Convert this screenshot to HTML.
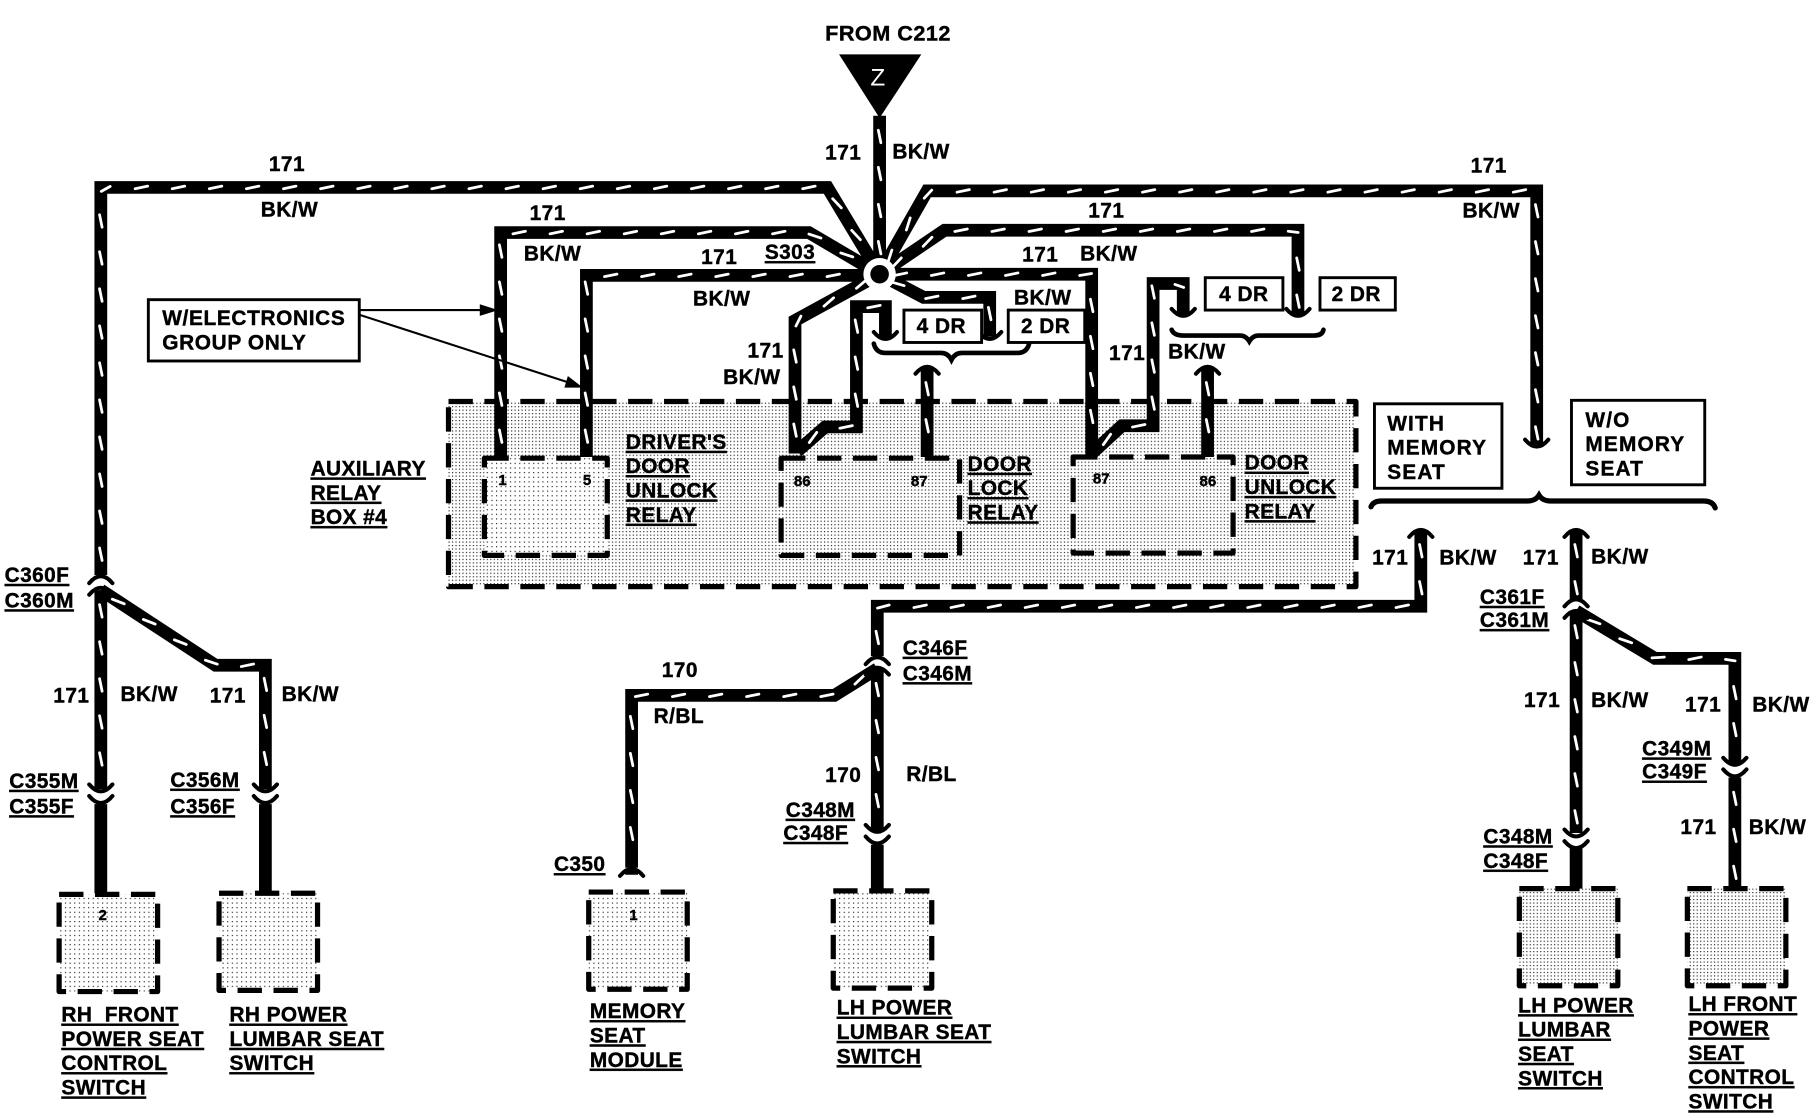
<!DOCTYPE html>
<html><head><meta charset="utf-8"><style>
html,body{margin:0;padding:0;background:#fff}
svg{display:block}
text{font-family:"Liberation Sans",sans-serif;font-weight:bold;font-size:18px;fill:#000;stroke:#000;stroke-width:.35;letter-spacing:.4px}
.u{text-decoration:underline;letter-spacing:.35px}
.m{letter-spacing:1px}
.g{letter-spacing:.55px}
.s{font-size:13px;letter-spacing:0}
.d{fill:url(#st);stroke:#000;stroke-width:4.5;stroke-dasharray:21 10;stroke-linejoin:round}
.l{fill:url(#st2)}
.b{fill:#fff;stroke:#000;stroke-width:2.5}
.c{fill:none;stroke:#000;stroke-width:3.5;stroke-linecap:round}
</style></head><body>
<svg xmlns="http://www.w3.org/2000/svg" width="1816" height="1120" viewBox="0 0 1567 968" preserveAspectRatio="none">
<defs>
<pattern id="st" width="3" height="3" patternUnits="userSpaceOnUse"><rect width="3" height="3" fill="#fff"/><rect width="1" height="1" fill="#222"/></pattern>
<pattern id="st2" width="4" height="4" patternUnits="userSpaceOnUse"><rect width="4" height="4" fill="#fff"/><rect width="1" height="1" fill="#222"/></pattern>
<path id="wires" d="M759,100V237 M87,497V162H714L759,237 M432,395V201H698L759,237 M506,395V238H759 M759,237L686,277V392 M688,390L712,369H739V265H764V292 M759,237L797,257H854V291 M800,318V395 M759,237L800,165H1326V385 M759,237L815,199H1120V272 M759,237H942V393 M942,392L968,368H995V245H1021V272 M1042,318V395 M1226,458V524H757V567 M757,578V718 M757,578L720,601H545V750 M1360,458V518 M1360,528V720 M1360,528L1428,569H1497V660 M1497,672V767 M87,510V682 M87,510L186,575H229V682"/>
<path id="c-d" d="M-10,-5Q0,7 10,-5"/>
<path id="c-u" d="M-10,5Q0,-7 10,5"/>
</defs>
<rect width="1567" height="968" fill="#fff"/>

<rect class="d" x="387" y="347" width="783" height="160"/>
<rect class="d l" x="418" y="396" width="106" height="84"/>
<rect class="d" x="674" y="396" width="154" height="84"/>
<rect class="d" x="926" y="395" width="138" height="83"/>
<rect class="d l" x="51" y="773" width="85" height="84"/>
<rect class="d l" x="189" y="772" width="85" height="84"/>
<rect class="d l" x="508" y="771" width="85" height="84"/>
<rect class="d l" x="719" y="770" width="85" height="84"/>
<rect class="d" x="1311" y="768" width="85" height="84"/>
<rect class="d" x="1456" y="768" width="85" height="84"/>

<use href="#wires" fill="none" stroke="#000" stroke-width="11"/>
<path id="dashes" fill="none" stroke="#fff" stroke-width="2.4" stroke-linecap="round"/>
<path d="M87,695V772 M229,695V772 M757,730V770 M1360,732V768 M545,752V756" fill="none" stroke="#000" stroke-width="11"/>

<polygon points="724,47 795,47 759,102" fill="#000"/>
<text x="751" y="74" style="fill:#fff;stroke:none;font-weight:normal;font-size:21px">Z</text>
<circle cx="759" cy="237" r="14" fill="#fff"/><circle cx="759" cy="237" r="8" fill="#000"/>

<g class="c">
<use href="#c-d" x="87" y="683"/><use href="#c-d" x="87" y="693"/>
<use href="#c-d" x="229" y="683"/><use href="#c-d" x="229" y="693"/>
<use href="#c-u" x="87" y="499"/><use href="#c-u" x="87" y="509"/>
<use href="#c-u" x="757" y="569"/><use href="#c-u" x="757" y="578"/>
<use href="#c-d" x="757" y="718"/><use href="#c-d" x="757" y="728"/>
<use href="#c-u" x="1360" y="519"/><use href="#c-u" x="1360" y="529"/>
<use href="#c-d" x="1360" y="722"/><use href="#c-d" x="1360" y="732"/>
<use href="#c-d" x="1497" y="660"/><use href="#c-d" x="1497" y="670"/>
<use href="#c-u" x="800" y="318"/><use href="#c-u" x="1042" y="318"/>
<use href="#c-u" x="1226" y="459"/><use href="#c-u" x="1360" y="459"/>
<use href="#c-d" x="764" y="292"/><use href="#c-d" x="854" y="292"/><use href="#c-d" x="1021" y="272"/><use href="#c-d" x="1120" y="272"/><use href="#c-d" x="1326" y="385"/>
<use href="#c-u" x="545" y="752"/>
<path d="M754,297Q756,305 764,305H812Q818,305 821,311Q824,305 830,305H878Q886,305 888,297" stroke-width="4"/>
<path d="M1011,285Q1013,290 1021,290H1070Q1075,290 1078,295Q1081,290 1086,290H1134Q1141,290 1142,285" stroke-width="4"/>
<path d="M1183,438Q1185,433 1192,433H1318Q1325,433 1328,428Q1331,433 1338,433H1470Q1478,433 1480,439" stroke-width="4.5"/>
</g>

<rect class="b" x="128" y="259" width="182" height="53"/>
<rect class="b" x="780" y="268" width="67" height="28"/>
<rect class="b" x="870" y="268" width="66" height="28"/>
<rect class="b" x="1040" y="240" width="67" height="28"/>
<rect class="b" x="1139" y="240" width="65" height="28"/>
<rect class="b" x="1186" y="349" width="110" height="73"/>
<rect class="b" x="1356" y="346" width="115" height="73"/>

<path d="M310,268H418 M310,272L492,331" stroke="#000" stroke-width="1.8" fill="none"/>
<polygon points="430,268 414,263 414,273" fill="#000"/>
<polygon points="503,335 487,335 490,325" fill="#000"/>

<text x="712" y="35" style="font-size:18.7px">FROM C212</text>
<text x="232" y="148">171</text><text x="225" y="187">BK/W</text>
<text x="457" y="190">171</text><text x="452" y="225">BK/W</text>
<text x="605" y="228">171</text><text x="660" y="224" class="u">S303</text><text x="598" y="264">BK/W</text>
<text x="712" y="138">171</text><text x="770" y="137">BK/W</text>
<text x="1269" y="149">171</text><text x="1262" y="188">BK/W</text>
<text x="939" y="188">171</text><text x="882" y="226">171</text><text x="932" y="225">BK/W</text><text x="875" y="263">BK/W</text>
<text x="645" y="309">171</text><text x="624" y="332">BK/W</text>
<text x="957" y="311">171</text><text x="1008" y="310">BK/W</text>
<text x="791" y="288">4 DR</text><text x="881" y="288">2 DR</text><text x="1052" y="260">4 DR</text><text x="1149" y="260">2 DR</text>
<text x="140" y="281" class="g">W/ELECTRONICS</text><text x="140" y="302" class="g">GROUP ONLY</text>

<text x="268" y="411" class="u">AUXILIARY</text><text x="268" y="432" class="u">RELAY</text><text x="268" y="453" class="u">BOX #4</text>
<text x="540" y="388" class="u">DRIVER'S</text><text x="540" y="409" class="u">DOOR</text><text x="540" y="430" class="u">UNLOCK</text><text x="540" y="451" class="u">RELAY</text>
<text x="835" y="407" class="u">DOOR</text><text x="835" y="428" class="u">LOCK</text><text x="835" y="449" class="u">RELAY</text>
<text x="1074" y="406" class="u">DOOR</text><text x="1074" y="427" class="u">UNLOCK</text><text x="1074" y="448" class="u">RELAY</text>
<text x="430" y="419" class="s">1</text><text x="503" y="419" class="s">5</text><text x="685" y="420" class="s">86</text><text x="786" y="420" class="s">87</text><text x="943" y="418" class="s">87</text><text x="1035" y="420" class="s">86</text>
<text x="85" y="795" class="s">2</text><text x="543" y="795" class="s">1</text>

<text x="1197" y="372" class="m">WITH</text><text x="1197" y="393" class="m">MEMORY</text><text x="1197" y="414" class="m">SEAT</text>
<text x="1368" y="369" class="m">W/O</text><text x="1368" y="390" class="m">MEMORY</text><text x="1368" y="411" class="m">SEAT</text>

<text x="1184" y="488">171</text><text x="1242" y="488">BK/W</text><text x="1314" y="488">171</text><text x="1373" y="487">BK/W</text>
<text x="1277" y="522" class="u">C361F</text><text x="1277" y="542" class="u">C361M</text>
<text x="1315" y="611">171</text><text x="1373" y="611">BK/W</text><text x="1454" y="615">171</text><text x="1512" y="615">BK/W</text>
<text x="1417" y="653" class="u">C349M</text><text x="1417" y="673" class="u">C349F</text>
<text x="1450" y="721">171</text><text x="1509" y="721">BK/W</text>
<text x="1280" y="729" class="u">C348M</text><text x="1280" y="750" class="u">C348F</text>
<text x="779" y="566" class="u">C346F</text><text x="779" y="588" class="u">C346M</text>
<text x="571" y="585">170</text><text x="564" y="625">R/BL</text>
<text x="712" y="676">170</text><text x="782" y="675">R/BL</text>
<text x="678" y="706" class="u">C348M</text><text x="676" y="726" class="u">C348F</text>
<text x="478" y="753" class="u">C350</text>
<text x="4" y="503" class="u">C360F</text><text x="4" y="525" class="u">C360M</text>
<text x="46" y="607">171</text><text x="104" y="606">BK/W</text><text x="181" y="607">171</text><text x="243" y="606">BK/W</text>
<text x="8" y="681" class="u">C355M</text><text x="8" y="703" class="u">C355F</text>
<text x="147" y="680" class="u">C356M</text><text x="147" y="703" class="u">C356F</text>

<text x="53" y="883" class="u" xml:space="preserve">RH  FRONT</text><text x="53" y="904" class="u">POWER SEAT</text><text x="53" y="925" class="u">CONTROL</text><text x="53" y="946" class="u">SWITCH</text>
<text x="198" y="883" class="u">RH POWER</text><text x="198" y="904" class="u">LUMBAR SEAT</text><text x="198" y="925" class="u">SWITCH</text>
<text x="509" y="880" class="u">MEMORY</text><text x="509" y="901" class="u">SEAT</text><text x="509" y="922" class="u">MODULE</text>
<text x="722" y="877" class="u">LH POWER</text><text x="722" y="898" class="u">LUMBAR SEAT</text><text x="722" y="919" class="u">SWITCH</text>
<text x="1310" y="875" class="u">LH POWER</text><text x="1310" y="896" class="u">LUMBAR</text><text x="1310" y="917" class="u">SEAT</text><text x="1310" y="938" class="u">SWITCH</text>
<text x="1457" y="874" class="u">LH FRONT</text><text x="1457" y="895" class="u">POWER</text><text x="1457" y="916" class="u">SEAT</text><text x="1457" y="937" class="u">CONTROL</text><text x="1457" y="958" class="u">SWITCH</text>
</svg>
<script>
(function(){var d=document.getElementById('wires').getAttribute('d').split('M').filter(Boolean),o='',NS='http://www.w3.org/2000/svg';
d.forEach(function(s){var p=document.createElementNS(NS,'path');p.setAttribute('d','M'+s);var L=p.getTotalLength();
for(var t=18;t<L-8;t+=32){var a=p.getPointAtLength(t-5.5),b=p.getPointAtLength(t+5.5),dx=b.x-a.x,dy=b.y-a.y,c=.978,n=-.208,ux=dx*c-dy*n,uy=dx*n+dy*c,mx=(a.x+b.x)/2,my=(a.y+b.y)/2;
o+='M'+(mx-ux/2).toFixed(1)+','+(my-uy/2).toFixed(1)+'L'+(mx+ux/2).toFixed(1)+','+(my+uy/2).toFixed(1);}});
document.getElementById('dashes').setAttribute('d',o);})();
</script>
</body></html>
